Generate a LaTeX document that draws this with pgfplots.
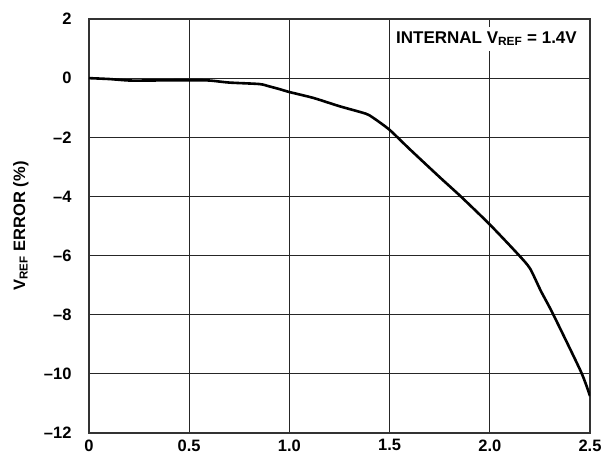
\documentclass[border=0pt]{standalone}
\usepackage{fontspec}
\setmainfont{Liberation Sans}
\usepackage{pgfplots}
\pgfplotsset{compat=1.18}
\begin{document}
\begin{tikzpicture}
\begin{axis}[
  scale only axis,
  width=501pt, height=414pt,
  xmin=0, xmax=2.5, ymin=-12, ymax=2,
  xtick={0,0.5,1,1.5,2,2.5},
  xticklabels={0,0.5,1.0,1.5,2.0,2.5},
  ytick={-12,-10,-8,-6,-4,-2,0,2},
  yticklabels={--12,--10,--8,--6,--4,--2,0,2},
  grid=major,
  major grid style={black!85, line width=1.1pt},
  axis line style={black!80, line width=1.6pt},
  major tick length=0pt,
  tick label style={font=\fontsize{16.5}{18}\selectfont\bfseries},
  yticklabel style={xshift=-14pt},
  xticklabel style={yshift=-3pt},
  ylabel={V\textsubscript{REF} ERROR (\%)},
  ylabel style={at={(axis description cs:-0.136,0.5)}, anchor=center, font=\fontsize{16.5}{18}\selectfont\bfseries},
]
\addplot[black, line width=2.6pt, smooth, tension=0.4] coordinates {
(0,0) (0.1,-0.03) (0.2,-0.08) (0.3,-0.08) (0.5,-0.07) (0.6,-0.08)
(0.7,-0.15) (0.85,-0.2) (0.9,-0.28) (0.95,-0.37) (1.0,-0.47)
(1.12,-0.67) (1.25,-0.95) (1.38,-1.2) (1.42,-1.35) (1.5,-1.75)
(1.6,-2.4) (1.75,-3.35) (1.855,-4.0) (2.0,-4.95) (2.14,-5.95)
(2.2,-6.43) (2.255,-7.2) (2.315,-7.97) (2.455,-9.93) (2.5,-10.75)
};
\node[fill=white, anchor=east, inner xsep=3pt, inner ysep=5pt,
  font=\fontsize{17}{19}\selectfont\bfseries] at (axis cs:2.45,1.33)
  {INTERNAL V\textsubscript{REF} = 1.4V};
\end{axis}
\pgfresetboundingbox
\path (current axis.south west) ++(-89pt,-26pt) coordinate (bbA);
\path (current axis.north east) ++(14pt,19pt) coordinate (bbB);
\useasboundingbox (bbA) rectangle (bbB);
\end{tikzpicture}
\end{document}
